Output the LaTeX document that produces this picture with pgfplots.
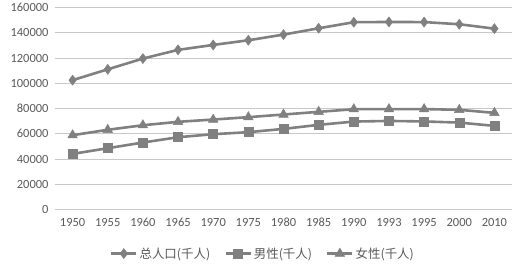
\documentclass[border=0pt]{standalone}
\usepackage{fontspec}
\setmainfont{Carlito}
\newfontfamily\cjk{Noto Sans CJK SC}
\usepackage{pgfplots}
\pgfplotsset{compat=1.18}
\definecolor{ln}{HTML}{808080}
\definecolor{grd}{HTML}{C8C8C8}
\definecolor{txt}{HTML}{595959}
\begin{document}
\begin{tikzpicture}
\begin{axis}[
  at={(0,0)}, anchor=south west,
  scale only axis, width=457bp, height=202bp,
  xmin=-0.5, xmax=12.5, ymin=0, ymax=160000,
  xtick={0,...,12},
  xticklabels={1950,1955,1960,1965,1970,1975,1980,1985,1990,1993,1995,2000,2010},
  ytick={0,20000,40000,60000,80000,100000,120000,140000,160000},
  yticklabels={0,20000,40000,60000,80000,100000,120000,140000,160000},
  scaled y ticks=false,
  ymajorgrids, grid style={grd, line width=0.8bp},
  axis line style={draw=none},
  major tick length=0pt,
  tick label style={font=\fontsize{12.5}{14}\selectfont, text=txt},
  xticklabel style={yshift=-5bp},
  yticklabel style={xshift=-3bp},
  legend style={at={(0.455,-0.218)}, anchor=center, draw=none, fill=none,
    font=\cjk\fontsize{12.5}{14}\selectfont, text=txt,
    legend columns=3, /tikz/every even column/.append style={column sep=12bp}},
  legend cell align=left,
  legend image code/.code={\draw[mark repeat=2,mark phase=2,#1] plot coordinates {(0bp,0bp) (12.5bp,0bp) (25bp,0bp)};},
]
\addplot[color=ln, line width=2.6bp, mark=diamond*, mark size=5bp, mark options={fill=ln, draw=ln, line width=0.5bp}] coordinates {
(0,102500) (1,111100) (2,119600) (3,126500) (4,130400) (5,134100) (6,138600)
(7,143600) (8,148400) (9,148600) (10,148500) (11,146800) (12,143300)};
\addlegendentry{总人口(千人)}
\addplot[color=ln, line width=2.6bp, mark=square*, mark size=4.5bp, mark options={fill=ln, draw=ln, line width=0.5bp}] coordinates {
(0,44100) (1,48600) (2,53100) (3,57300) (4,59700) (5,61300) (6,63900)
(7,67100) (8,69700) (9,70200) (10,69800) (11,68900) (12,66300)};
\addlegendentry{男性(千人)}
\addplot[color=ln, line width=2.6bp, mark=triangle*, mark size=5.5bp, mark options={fill=ln, draw=ln, line width=0.5bp}] coordinates {
(0,58900) (1,63200) (2,66800) (3,69500) (4,71300) (5,73200) (6,75300)
(7,77400) (8,79500) (9,79600) (10,79600) (11,79000) (12,76600)};
\addlegendentry{女性(千人)}
\end{axis}
\useasboundingbox (-55bp,-55bp) rectangle (462bp,208bp);
\end{tikzpicture}
\end{document}
